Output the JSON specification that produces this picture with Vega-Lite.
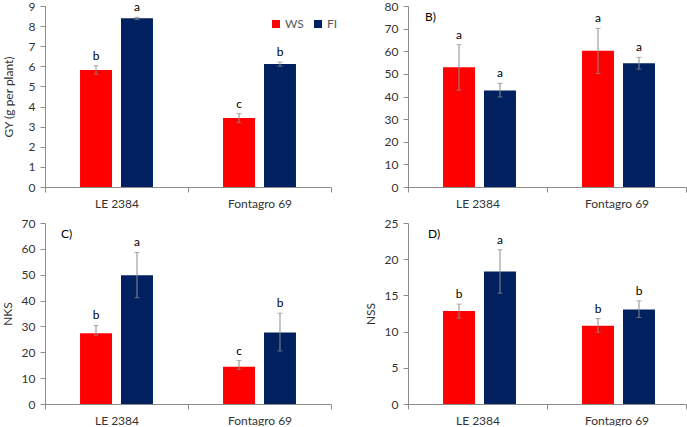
{
  "$schema": "https://vega.github.io/schema/vega-lite/v6.json",
  "background": "white",
  "padding": {"left": 1, "top": 0, "right": 2, "bottom": 0},
  "datasets": {
    "d": [
      {"p": "A", "cv": "LE 2384", "trt": "WS", "v": 5.82, "lo": 5.61, "hi": 6.03, "lab": "b"},
      {"p": "A", "cv": "LE 2384", "trt": "FI", "v": 8.39, "lo": 8.33, "hi": 8.44, "lab": "a"},
      {"p": "A", "cv": "Fontagro 69", "trt": "WS", "v": 3.43, "lo": 3.2, "hi": 3.65, "lab": "c"},
      {"p": "A", "cv": "Fontagro 69", "trt": "FI", "v": 6.11, "lo": 6.01, "hi": 6.21, "lab": "b"},
      {"p": "B", "cv": "LE 2384", "trt": "WS", "v": 52.9, "lo": 42.8, "hi": 62.9, "lab": "a"},
      {"p": "B", "cv": "LE 2384", "trt": "FI", "v": 42.7, "lo": 39.8, "hi": 45.8, "lab": "a"},
      {"p": "B", "cv": "Fontagro 69", "trt": "WS", "v": 60.2, "lo": 50.2, "hi": 70.1, "lab": "a"},
      {"p": "B", "cv": "Fontagro 69", "trt": "FI", "v": 54.7, "lo": 52.1, "hi": 57.3, "lab": "a"},
      {"p": "C", "cv": "LE 2384", "trt": "WS", "v": 27.4, "lo": 26.6, "hi": 30.4, "lab": "b"},
      {"p": "C", "cv": "LE 2384", "trt": "FI", "v": 49.8, "lo": 41.1, "hi": 58.6, "lab": "a"},
      {"p": "C", "cv": "Fontagro 69", "trt": "WS", "v": 14.4, "lo": 13.4, "hi": 16.8, "lab": "c"},
      {"p": "C", "cv": "Fontagro 69", "trt": "FI", "v": 27.7, "lo": 20.5, "hi": 35.1, "lab": "b"},
      {"p": "D", "cv": "LE 2384", "trt": "WS", "v": 12.85, "lo": 11.85, "hi": 13.8, "lab": "b"},
      {"p": "D", "cv": "LE 2384", "trt": "FI", "v": 18.3, "lo": 15.3, "hi": 21.3, "lab": "a"},
      {"p": "D", "cv": "Fontagro 69", "trt": "WS", "v": 10.8, "lo": 9.9, "hi": 11.8, "lab": "b"},
      {"p": "D", "cv": "Fontagro 69", "trt": "FI", "v": 13.05, "lo": 11.95, "hi": 14.25, "lab": "b"}
    ]
  },
  "columns": 2,
  "align": "each",
  "bounds": "flush",
  "spacing": {"column": 77, "row": 36},
  "resolve": {"legend": {"color": "independent"}, "scale": {"color": "independent"}},
  "concat": [
    {
      "width": 286, "height": 181,
      "data": {"name": "d"},
      "transform": [{"filter": "datum.p == 'A'"}],
      "encoding": {
        "x": {"field": "cv", "type": "nominal", "sort": ["LE 2384", "Fontagro 69"], "scale": {"paddingInner": 0, "paddingOuter": 0}, "title": null},
        "xOffset": {"field": "trt", "type": "nominal", "sort": ["WS", "FI"], "scale": {"paddingInner": 0.22, "paddingOuter": 0.855}}
      },
      "layer": [
        {"mark": {"type": "bar"}, "encoding": {
          "y": {"field": "v", "type": "quantitative", "scale": {"domain": [0, 9], "nice": false}, "axis": {"values": [0,1,2,3,4,5,6,7,8,9], "labelOverlap": false, "titlePadding": 13}, "title": "GY (g per plant)"},
          "color": {"field": "trt", "type": "nominal", "scale": {"domain": ["WS", "FI"], "range": ["#ff0000", "#002060"]}, "legend": {"title": null, "orient": "none", "legendX": 225, "legendY": 12, "direction": "horizontal", "symbolType": "square", "symbolSize": 64, "symbolStrokeWidth": 0, "labelFontSize": 12, "labelColor": "#595959", "columnPadding": 8, "padding": 0, "labelOffset": 3}}}},
        {"mark": {"type": "rule", "color": "#8c8c8c", "strokeWidth": 1}, "encoding": {"y": {"field": "lo", "type": "quantitative", "scale": {"domain": [0, 9], "nice": false}, "axis": {"values": [0,1,2,3,4,5,6,7,8,9], "labelOverlap": false, "titlePadding": 13}, "title": "GY (g per plant)"}, "y2": {"field": "hi"}}},
        {"mark": {"type": "tick", "color": "#8c8c8c", "size": 5, "thickness": 1}, "encoding": {"y": {"field": "lo", "type": "quantitative", "scale": {"domain": [0, 9], "nice": false}, "axis": {"values": [0,1,2,3,4,5,6,7,8,9], "labelOverlap": false, "titlePadding": 13}, "title": "GY (g per plant)"}}},
        {"mark": {"type": "tick", "color": "#8c8c8c", "size": 5, "thickness": 1}, "encoding": {"y": {"field": "hi", "type": "quantitative", "scale": {"domain": [0, 9], "nice": false}, "axis": {"values": [0,1,2,3,4,5,6,7,8,9], "labelOverlap": false, "titlePadding": 13}, "title": "GY (g per plant)"}}},
        {"mark": {"type": "text", "baseline": "alphabetic", "dy": -6, "fontSize": 12, "color": "#000000"}, "encoding": {"y": {"field": "hi", "type": "quantitative", "scale": {"domain": [0, 9], "nice": false}, "axis": {"values": [0,1,2,3,4,5,6,7,8,9], "labelOverlap": false, "titlePadding": 13}, "title": "GY (g per plant)"}, "text": {"field": "lab"}}}
      ]
    },
    {
      "width": 278, "height": 181,
      "title": {"text": "B)", "anchor": "start", "frame": "group", "orient": "top", "baseline": "top", "offset": 0, "dx": 17, "dy": 24, "fontSize": 12, "fontWeight": "normal", "color": "#000000"},
      "data": {"name": "d"},
      "transform": [{"filter": "datum.p == 'B'"}],
      "encoding": {
        "x": {"field": "cv", "type": "nominal", "sort": ["LE 2384", "Fontagro 69"], "scale": {"paddingInner": 0, "paddingOuter": 0}, "title": null},
        "xOffset": {"field": "trt", "type": "nominal", "sort": ["WS", "FI"], "scale": {"paddingInner": 0.22, "paddingOuter": 0.855}}
      },
      "layer": [
        {"mark": {"type": "bar"}, "encoding": {
          "y": {"field": "v", "type": "quantitative", "scale": {"domain": [0, 80], "nice": false}, "axis": {"values": [0,10,20,30,40,50,60,70,80], "labelOverlap": false}, "title": null},
          "color": {"field": "trt", "type": "nominal", "scale": {"domain": ["WS", "FI"], "range": ["#ff0000", "#002060"]}, "legend": null}}},
        {"mark": {"type": "rule", "color": "#8c8c8c", "strokeWidth": 1}, "encoding": {"y": {"field": "lo", "type": "quantitative", "scale": {"domain": [0, 80], "nice": false}, "axis": {"values": [0,10,20,30,40,50,60,70,80], "labelOverlap": false}, "title": null}, "y2": {"field": "hi"}}},
        {"mark": {"type": "tick", "color": "#8c8c8c", "size": 5, "thickness": 1}, "encoding": {"y": {"field": "lo", "type": "quantitative", "scale": {"domain": [0, 80], "nice": false}, "axis": {"values": [0,10,20,30,40,50,60,70,80], "labelOverlap": false}, "title": null}}},
        {"mark": {"type": "tick", "color": "#8c8c8c", "size": 5, "thickness": 1}, "encoding": {"y": {"field": "hi", "type": "quantitative", "scale": {"domain": [0, 80], "nice": false}, "axis": {"values": [0,10,20,30,40,50,60,70,80], "labelOverlap": false}, "title": null}}},
        {"mark": {"type": "text", "baseline": "alphabetic", "dy": -6, "fontSize": 12, "color": "#000000"}, "encoding": {"y": {"field": "hi", "type": "quantitative", "scale": {"domain": [0, 80], "nice": false}, "axis": {"values": [0,10,20,30,40,50,60,70,80], "labelOverlap": false}, "title": null}, "text": {"field": "lab"}}}
      ]
    },
    {
      "width": 286, "height": 181,
      "title": {"text": "C)", "anchor": "start", "frame": "group", "orient": "top", "baseline": "top", "offset": 0, "dx": 16, "dy": 24, "fontSize": 12, "fontWeight": "normal", "color": "#000000"},
      "data": {"name": "d"},
      "transform": [{"filter": "datum.p == 'C'"}],
      "encoding": {
        "x": {"field": "cv", "type": "nominal", "sort": ["LE 2384", "Fontagro 69"], "scale": {"paddingInner": 0, "paddingOuter": 0}, "title": null},
        "xOffset": {"field": "trt", "type": "nominal", "sort": ["WS", "FI"], "scale": {"paddingInner": 0.22, "paddingOuter": 0.855}}
      },
      "layer": [
        {"mark": {"type": "bar"}, "encoding": {
          "y": {"field": "v", "type": "quantitative", "scale": {"domain": [0, 70], "nice": false}, "axis": {"values": [0,10,20,30,40,50,60,70], "labelOverlap": false, "titlePadding": 7}, "title": "NKS"},
          "color": {"field": "trt", "type": "nominal", "scale": {"domain": ["WS", "FI"], "range": ["#ff0000", "#002060"]}, "legend": null}}},
        {"mark": {"type": "rule", "color": "#8c8c8c", "strokeWidth": 1}, "encoding": {"y": {"field": "lo", "type": "quantitative", "scale": {"domain": [0, 70], "nice": false}, "axis": {"values": [0,10,20,30,40,50,60,70], "labelOverlap": false, "titlePadding": 7}, "title": "NKS"}, "y2": {"field": "hi"}}},
        {"mark": {"type": "tick", "color": "#8c8c8c", "size": 5, "thickness": 1}, "encoding": {"y": {"field": "lo", "type": "quantitative", "scale": {"domain": [0, 70], "nice": false}, "axis": {"values": [0,10,20,30,40,50,60,70], "labelOverlap": false, "titlePadding": 7}, "title": "NKS"}}},
        {"mark": {"type": "tick", "color": "#8c8c8c", "size": 5, "thickness": 1}, "encoding": {"y": {"field": "hi", "type": "quantitative", "scale": {"domain": [0, 70], "nice": false}, "axis": {"values": [0,10,20,30,40,50,60,70], "labelOverlap": false, "titlePadding": 7}, "title": "NKS"}}},
        {"mark": {"type": "text", "baseline": "alphabetic", "dy": -6, "fontSize": 12, "color": "#000000"}, "encoding": {"y": {"field": "hi", "type": "quantitative", "scale": {"domain": [0, 70], "nice": false}, "axis": {"values": [0,10,20,30,40,50,60,70], "labelOverlap": false, "titlePadding": 7}, "title": "NKS"}, "text": {"field": "lab"}}}
      ]
    },
    {
      "width": 278, "height": 181,
      "title": {"text": "D)", "anchor": "start", "frame": "group", "orient": "top", "baseline": "top", "offset": 0, "dx": 20, "dy": 24, "fontSize": 12, "fontWeight": "normal", "color": "#000000"},
      "data": {"name": "d"},
      "transform": [{"filter": "datum.p == 'D'"}],
      "encoding": {
        "x": {"field": "cv", "type": "nominal", "sort": ["LE 2384", "Fontagro 69"], "scale": {"paddingInner": 0, "paddingOuter": 0}, "title": null},
        "xOffset": {"field": "trt", "type": "nominal", "sort": ["WS", "FI"], "scale": {"paddingInner": 0.22, "paddingOuter": 0.855}}
      },
      "layer": [
        {"mark": {"type": "bar"}, "encoding": {
          "y": {"field": "v", "type": "quantitative", "scale": {"domain": [0, 25], "nice": false}, "axis": {"values": [0,5,10,15,20,25], "labelOverlap": false, "titlePadding": 7}, "title": "NSS"},
          "color": {"field": "trt", "type": "nominal", "scale": {"domain": ["WS", "FI"], "range": ["#ff0000", "#002060"]}, "legend": null}}},
        {"mark": {"type": "rule", "color": "#8c8c8c", "strokeWidth": 1}, "encoding": {"y": {"field": "lo", "type": "quantitative", "scale": {"domain": [0, 25], "nice": false}, "axis": {"values": [0,5,10,15,20,25], "labelOverlap": false, "titlePadding": 7}, "title": "NSS"}, "y2": {"field": "hi"}}},
        {"mark": {"type": "tick", "color": "#8c8c8c", "size": 5, "thickness": 1}, "encoding": {"y": {"field": "lo", "type": "quantitative", "scale": {"domain": [0, 25], "nice": false}, "axis": {"values": [0,5,10,15,20,25], "labelOverlap": false, "titlePadding": 7}, "title": "NSS"}}},
        {"mark": {"type": "tick", "color": "#8c8c8c", "size": 5, "thickness": 1}, "encoding": {"y": {"field": "hi", "type": "quantitative", "scale": {"domain": [0, 25], "nice": false}, "axis": {"values": [0,5,10,15,20,25], "labelOverlap": false, "titlePadding": 7}, "title": "NSS"}}},
        {"mark": {"type": "text", "baseline": "alphabetic", "dy": -6, "fontSize": 12, "color": "#000000"}, "encoding": {"y": {"field": "hi", "type": "quantitative", "scale": {"domain": [0, 25], "nice": false}, "axis": {"values": [0,5,10,15,20,25], "labelOverlap": false, "titlePadding": 7}, "title": "NSS"}, "text": {"field": "lab"}}}
      ]
    }
  ],
  "config": {
    "view": {"stroke": null},
    "font": "Lato",
    "text": {"font": "Lato"},
    "title": {"font": "Lato"},
    "legend": {"labelFont": "Lato"},
    "axis": {"labelFont": "Lato", "titleFont": "Lato", "labelFontSize": 12, "titleFontSize": 12, "titleFontWeight": "normal", "labelColor": "#333333", "titleColor": "#333333", "domainColor": "#8c8c8c", "tickColor": "#8c8c8c", "grid": false, "tickSize": 5},
    "axisX": {"tickBand": "extent", "labelAngle": 0, "labelPadding": 6},
    "axisY": {"labelPadding": 5}
  }
}
